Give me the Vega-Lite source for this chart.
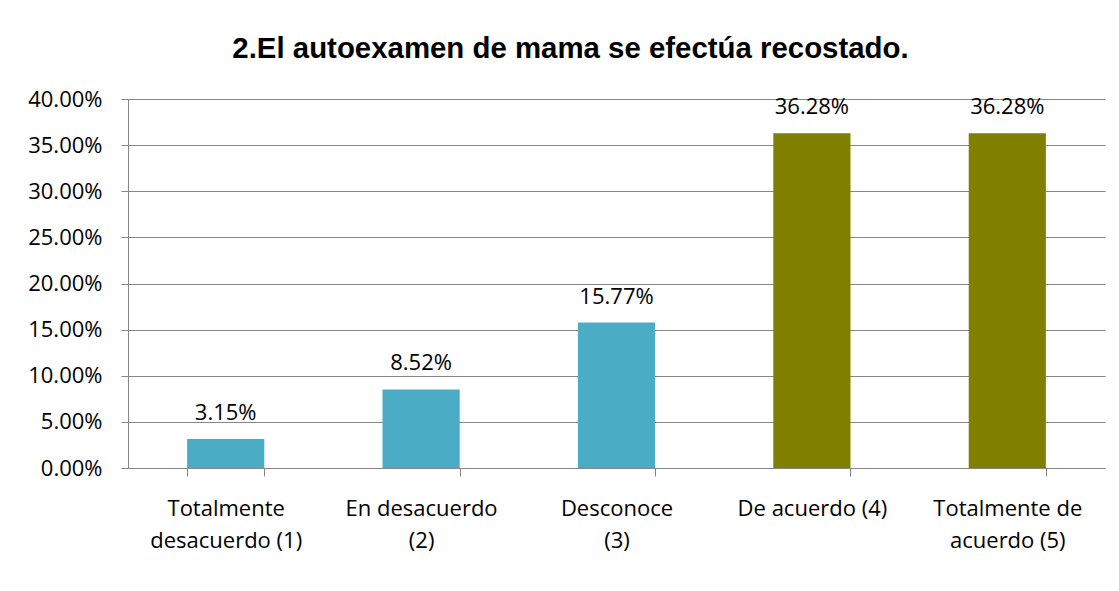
{
  "$schema": "https://vega.github.io/schema/vega-lite/v6.json",
  "autosize": "none",
  "width": 977,
  "height": 369,
  "padding": {"left": 128, "top": 99, "right": 14, "bottom": 123},
  "background": "white",
  "title": {
    "text": "2.El autoexamen de mama se efectúa recostado.",
    "font": "Liberation Sans",
    "fontSize": 29.4,
    "fontWeight": "bold",
    "color": "black",
    "anchor": "middle",
    "frame": "group",
    "baseline": "alphabetic",
    "offset": 1,
    "dx": -46
  },
  "data": {
    "values": [
      {"categoria": "Totalmente desacuerdo (1)", "porcentaje": 0.0315, "grupo": "desacuerdo"},
      {"categoria": "En desacuerdo (2)", "porcentaje": 0.0852, "grupo": "desacuerdo"},
      {"categoria": "Desconoce (3)", "porcentaje": 0.1577, "grupo": "desacuerdo"},
      {"categoria": "De acuerdo (4)", "porcentaje": 0.3628, "grupo": "acuerdo"},
      {"categoria": "Totalmente de acuerdo (5)", "porcentaje": 0.3628, "grupo": "acuerdo"}
    ]
  },
  "encoding": {
    "x": {
      "field": "categoria",
      "type": "nominal",
      "sort": null,
      "scale": {"paddingInner": 0.605, "paddingOuter": 0.3025},
      "axis": {
        "title": null,
        "labelAngle": 0,
        "labelFont": "Open Sans",
        "labelFontSize": 22,
        "labelColor": "black",
        "labelLineHeight": 32,
        "labelBaseline": "top",
        "labelPadding": 22,
        "labelLimit": 0,
        "domainColor": "#868686",
        "tickColor": "#868686",
        "tickSize": 8,
        "tickBand": "extent",
        "grid": false,
        "labelExpr": "datum.value == 'Totalmente desacuerdo (1)' ? ['Totalmente', 'desacuerdo (1)'] : datum.value == 'En desacuerdo (2)' ? ['En desacuerdo', '(2)'] : datum.value == 'Desconoce (3)' ? ['Desconoce', '(3)'] : datum.value == 'Totalmente de acuerdo (5)' ? ['Totalmente de', 'acuerdo (5)'] : datum.value"
      }
    },
    "y": {
      "field": "porcentaje",
      "type": "quantitative",
      "scale": {"domain": [0, 0.4], "nice": false},
      "axis": {
        "title": null,
        "values": [0, 0.05, 0.1, 0.15, 0.2, 0.25, 0.3, 0.35, 0.4],
        "format": ".2%",
        "labelFont": "Open Sans",
        "labelFontSize": 22,
        "labelColor": "black",
        "labelPadding": 19,
        "domainColor": "#868686",
        "tickColor": "#868686",
        "tickSize": 7,
        "gridColor": "#868686",
        "gridWidth": 1
      }
    }
  },
  "layer": [
    {
      "mark": {"type": "bar"},
      "encoding": {
        "color": {
          "field": "grupo",
          "type": "nominal",
          "scale": {"domain": ["desacuerdo", "acuerdo"], "range": ["#4BACC6", "#808000"]},
          "legend": null
        }
      }
    },
    {
      "mark": {"type": "text", "baseline": "alphabetic", "dy": -19, "font": "Open Sans", "fontSize": 22, "color": "black"},
      "encoding": {
        "text": {"field": "porcentaje", "type": "quantitative", "format": ".2%"}
      }
    }
  ],
  "config": {
    "view": {"stroke": null}
  }
}
